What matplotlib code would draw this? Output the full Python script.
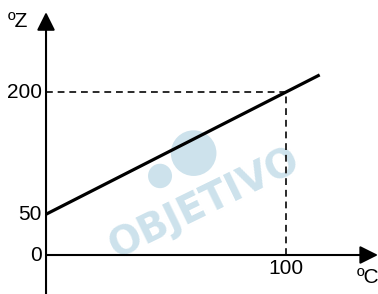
import matplotlib
matplotlib.use("Agg")
import matplotlib.pyplot as plt
from matplotlib.patches import Ellipse

line_x = [0, 114]
line_y = [50, 221]
ref_x = 100
ref_y = 200
yticks = [0, 50, 200]
ytick_labels = ["0", "50", "200"]
xticks = [100]
xtick_labels = ["100"]

fig = plt.figure(figsize=(3.78, 2.94), dpi=100)
ax = fig.add_axes([0, 0, 1, 1])
ax.set_xlim(-19.17, 138.3)
ax.set_ylim(-47.85, 312.9)
ax.axis("off")

font = "Liberation Sans"
wm = "#cde2ec"
# watermark
ax.text(66, 63, "OBJETIVO", rotation=26, fontsize=28, fontweight="heavy",
        color=wm, ha="center", va="center", family="DejaVu Sans", zorder=0)
ax.add_patch(Ellipse((61.5, 125), 19, 56, color=wm, zorder=0, lw=0))
ax.add_patch(Ellipse((47.5, 97), 10, 30, color=wm, zorder=0, lw=0))

arrow = dict(arrowstyle="-|>,head_length=1.1,head_width=0.55", color="black",
             lw=1.5, shrinkA=0, shrinkB=0)
ax.annotate("", xy=(138.3, 0), xytext=(0, 0), arrowprops=arrow)
ax.annotate("", xy=(0, 298), xytext=(0, -47.85), arrowprops=arrow)

# dashed guide lines
ax.plot([0, ref_x], [ref_y, ref_y], ls=(0, (3.5, 2.5)), color="#2a2a2a", lw=1.4)
ax.plot([ref_x, ref_x], [0, ref_y], ls=(0, (3.5, 2.5)), color="#2a2a2a", lw=1.4)

# main line
ax.plot(line_x, line_y, color="black", lw=2.3, solid_capstyle="butt")

for v, s in zip(yticks, ytick_labels):
    ax.text(-1.8, v, s, ha="right", va="center", fontsize=15, family=font)
for v, s in zip(xticks, xtick_labels):
    ax.text(v, -5, s, ha="center", va="top", fontsize=15, family=font)

ax.text(-16, 286, "ºZ", ha="left", va="center", fontsize=15, family=font)
ax.text(129.5, -27, "ºC", ha="left", va="center", fontsize=15, family=font)

fig.savefig("out.png", dpi=100)
